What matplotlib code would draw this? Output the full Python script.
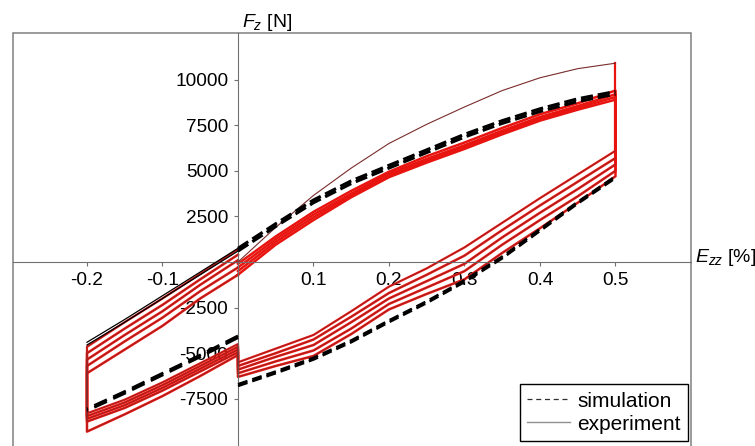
import matplotlib
matplotlib.use('Agg')
import matplotlib.pyplot as plt
from matplotlib.lines import Line2D
from matplotlib.patches import Rectangle

plt.rcParams['font.family'] = 'Liberation Sans'
plt.rcParams['axes.unicode_minus'] = False
plt.rcParams['mathtext.fontset'] = 'custom'
plt.rcParams['mathtext.it'] = 'Liberation Sans:italic'
plt.rcParams['mathtext.rm'] = 'Liberation Sans'

# strain points (%) of the branches
x_right = [0, 0.05, 0.1, 0.15, 0.2, 0.25, 0.3, 0.35, 0.4, 0.45, 0.5]
x_left = [0, -0.05, -0.1, -0.15, -0.2]

# simulation, force [N] (two cycles), given along x_right / x_left
sim_up_right = [[750, 2100, 3400, 4450, 5300, 6150, 7000, 7750, 8400, 8950, 9350],
                [600, 1950, 3250, 4300, 5150, 6000, 6850, 7600, 8250, 8800, 9200]]
sim_low_right = [[-6800, -6100, -5350, -4400, -3300, -2250, -1100, 200, 1700, 3200, 4600],
                 [-6700, -6000, -5250, -4300, -3200, -2150, -1000, 300, 1800, 3300, 4700]]
sim_low_left = [[-4050, -5100, -6100, -7100, -8050],
                [-4150, -5200, -6200, -7200, -8150]]
sim_up_left = [[750, -550, -1850, -3150, -4400],
               [600, -700, -2000, -3300, -4550]]

# experiment, force [N] (5 cycles, first one starts with the virgin loading)
exp_up_right = [[0, 1900, 3650, 5150, 6500, 7550, 8500, 9400, 10100, 10600, 10900],
                [-100, 1400, 2750, 3900, 4950, 5800, 6550, 7350, 8100, 8700, 9400],
                [-300, 1250, 2600, 3750, 4850, 5650, 6400, 7200, 7950, 8550, 9200],
                [-500, 1100, 2450, 3650, 4750, 5550, 6300, 7100, 7850, 8450, 9050],
                [-700, 950, 2300, 3550, 4650, 5450, 6200, 7000, 7750, 8350, 8900]]
exp_low_right = [[-5500, -4750, -4000, -2700, -1350, -350, 800, 2150, 3500, 4800, 6100],
                 [-5700, -5000, -4250, -3000, -1700, -700, 350, 1750, 3100, 4400, 5700],
                 [-5900, -5200, -4550, -3300, -2000, -1050, -100, 1350, 2700, 4000, 5350],
                 [-6100, -5450, -4850, -3650, -2300, -1400, -500, 950, 2300, 3600, 5000],
                 [-6300, -5700, -5150, -3950, -2600, -1750, -950, 500, 1850, 3250, 4700]]
exp_low_left = [[-4500, -5550, -6600, -7550, -8300],
                [-4650, -5700, -6750, -7700, -8450],
                [-4800, -5850, -6900, -7850, -8600],
                [-4950, -6000, -7050, -8000, -8750],
                [-5100, -6250, -7350, -8350, -9300]]
exp_up_left = [[700, -650, -2000, -3300, -4650],
               [400, -950, -2350, -3650, -5000],
               [100, -1250, -2700, -4000, -5350],
               [-300, -1600, -3050, -4350, -5700],
               [-700, -2000, -3500, -4800, -6100]]

x_ticks = [-0.2, -0.1, 0.1, 0.2, 0.3, 0.4, 0.5]
y_ticks = [-7500, -5000, -2500, 2500, 5000, 7500, 10000]

red = '#e8140f'
brown = '#7a2c2c'

fig = plt.figure(figsize=(7.55, 4.46), dpi=100)
ax = fig.add_axes([13 / 755, -6 / 446, 678 / 755, 419 / 446])
ax.set_xlim(-0.298, 0.6)
ax.set_ylim(-10417, 12555)

# experiment: 0 -> 0.5 -> 0 -> -0.2 -> 0, repeated
for i in range(len(exp_up_right)):
    xs = x_right + x_right[::-1] + x_left + x_left[::-1]
    ys = exp_up_right[i] + exp_low_right[i][::-1] + exp_low_left[i] + exp_up_left[i][::-1]
    if i == 0:
        # first loading drawn thin
        ax.plot(x_right, exp_up_right[i], color=brown, lw=0.8, zorder=3)
        ax.plot(xs[len(x_right):], ys[len(x_right):], color=red, lw=1.6, zorder=2)
        ax.plot(xs[len(x_right) - 1:len(x_right) + 1], ys[len(x_right) - 1:len(x_right) + 1],
                color=red, lw=1.6, zorder=2)
    else:
        ax.plot(xs, ys, color=red, lw=1.8, zorder=2)
    ax.plot(xs[len(x_right):], ys[len(x_right):], color=brown, lw=0.4, zorder=3)

# simulation branches
for i in range(len(sim_up_right)):
    ax.plot(x_right, sim_up_right[i], color='black', lw=2.2, dashes=(4, 1.6), zorder=4)
    ax.plot(x_right, sim_low_right[i], color='black', lw=1.8, dashes=(4, 2), zorder=4)
    ax.plot(x_left, sim_low_left[i], color='black', lw=2.0, dashes=(5, 2.5), zorder=4)
    ax.plot(x_left, sim_up_left[i], color='black', lw=0.9, zorder=4)

# axes through the origin, plus the outer frame
for s in ax.spines.values():
    s.set_visible(False)
for side in ['left', 'bottom']:
    ax.spines[side].set_visible(True)
    ax.spines[side].set_position(('data', 0))
    ax.spines[side].set_color('#707070')
ax.add_patch(Rectangle((0, 0), 1, 1, transform=ax.transAxes, fill=False,
                       edgecolor='#808080', lw=1.1, clip_on=False))

ax.set_xticks(x_ticks)
ax.set_xticklabels([str(v) for v in x_ticks])
ax.set_yticks(y_ticks)
ax.set_yticklabels([str(v) for v in y_ticks])
ax.tick_params(direction='out', length=3, width=0.8, color='#707070',
               labelsize=13.7, pad=4)

fig.text(242 / 755, 1 - 27 / 446, '$F_z$ [N]', fontsize=14, ha='left', va='baseline')
fig.text(695 / 755, 1 - 262 / 446, '$E_{zz}$ [%]', fontsize=14, ha='left', va='baseline')

handles = [Line2D([], [], color='#303030', lw=0.9, dashes=(4, 3)),
           Line2D([], [], color='#909090', lw=1)]
leg = ax.legend(handles, ['simulation', 'experiment'], loc='lower right',
                bbox_to_anchor=(688 / 755, 5 / 446), bbox_transform=fig.transFigure,
                borderaxespad=0, fontsize=15, handlelength=2.05, handletextpad=0.35,
                labelspacing=0.2, borderpad=0.35, fancybox=False, framealpha=1)
leg.get_frame().set_edgecolor('black')
leg.get_frame().set_linewidth(1)

fig.savefig('out.png', dpi=100)
